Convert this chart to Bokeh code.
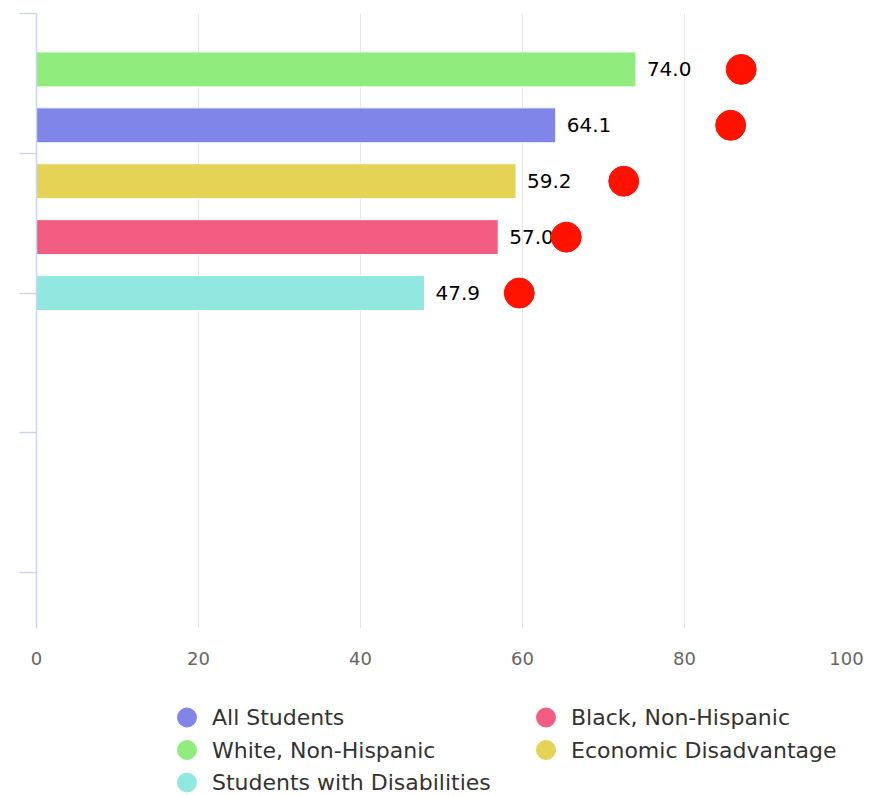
from bokeh.plotting import figure
from bokeh.layouts import column
from bokeh.models import Range1d, FixedTicker, ColumnDataSource, CustomJSTickFormatter
from bokeh.core.properties import value
from bokeh.embed import file_html
from bokeh.resources import INLINE

# ---- data ----
bar_groups = ["White, Non-Hispanic", "All Students", "Economic Disadvantage",
              "Black, Non-Hispanic", "Students with Disabilities"]
bar_values = [74.0, 64.1, 59.2, 57.0, 47.9]
target_values = [87.0, 85.7, 72.5, 65.4, 59.6]
bar_colors = ["#90ed7d", "#8085e9", "#e4d354", "#f15c80", "#91e8e1"]

legend_labels = ["All Students", "Black, Non-Hispanic", "White, Non-Hispanic",
                 "Economic Disadvantage", "Students with Disabilities"]
legend_colors = ["#8085e9", "#f15c80", "#90ed7d", "#e4d354", "#91e8e1"]

x_ticks = [0, 20, 40, 60, 80, 100]
y_axis_ticks = [-1, 1.5, 4, 6.5, 9]

FONT = "DejaVu Sans"

# ---- main chart ----
p = figure(width=880, height=680, output_backend="svg", toolbar_location=None,
           x_range=Range1d(0, 100), y_range=Range1d(10, -1),
           min_border_left=36, min_border_right=34, min_border_top=13,
           min_border_bottom=52)
p.outline_line_color = None
p.background_fill_color = "white"
p.border_fill_color = "white"

ypos = list(range(len(bar_groups)))
src = ColumnDataSource(dict(y=ypos, v=bar_values, t=target_values, c=bar_colors,
                            lab=["%.1f" % v for v in bar_values]))

p.hbar(y="y", right="v", left=0, height=0.625, fill_color="c",
       line_color="white", line_width=1, source=src)
p.text(x="v", y="y", text="lab", x_offset=11, text_align="left",
       text_baseline="middle", text_font=value(FONT), text_font_size="20px",
       text_color="#000000", source=src)
p.scatter(x="t", y="y", size=30, fill_color="#ff1200", line_color="#ff1200",
          source=src)

# x axis
p.xaxis.ticker = FixedTicker(ticks=x_ticks)
p.xaxis.axis_line_color = None
p.xaxis.major_tick_line_color = None
p.xaxis.minor_tick_line_color = None
p.xaxis.major_label_standoff = 17
p.xaxis.major_label_text_font = FONT
p.xaxis.major_label_text_font_size = "18px"
p.xaxis.major_label_text_color = "#666666"

# y axis (ticks only, no labels)
p.yaxis.ticker = FixedTicker(ticks=y_axis_ticks)
p.yaxis.axis_line_color = "#ccd6eb"
p.yaxis.axis_line_width = 1.5
p.yaxis.major_tick_line_color = "#ccd6eb"
p.yaxis.major_tick_line_width = 1.5
p.yaxis.major_tick_out = 17
p.yaxis.major_tick_in = 0
p.yaxis.minor_tick_line_color = None
p.yaxis.major_label_text_color = None
p.yaxis.major_label_standoff = 0
p.yaxis.formatter = CustomJSTickFormatter(code="return ''")

p.xgrid.ticker = FixedTicker(ticks=x_ticks)
p.xgrid.grid_line_color = "#e6e6e6"
p.xgrid.grid_line_width = 1
p.ygrid.grid_line_color = None

# ---- legend (separate strip, frame aligned with the chart) ----
leg = figure(width=880, height=116, output_backend="svg", toolbar_location=None,
             x_range=Range1d(36, 846), y_range=Range1d(116, 0),
             min_border_left=36, min_border_right=34, min_border_top=0,
             min_border_bottom=0)
leg.outline_line_color = None
leg.axis.visible = False
leg.grid.visible = False

col_x = [186.5, 545.5]
row_y0, row_dy = 37, 32.5
lx = [col_x[i % 2] for i in range(len(legend_labels))]
ly = [row_y0 + row_dy * (i // 2) for i in range(len(legend_labels))]
lsrc = ColumnDataSource(dict(x=lx, y=ly, c=legend_colors, lab=legend_labels))
leg.scatter(x="x", y="y", size=19, fill_color="c", line_color="c", source=lsrc)
leg.text(x="x", y="y", text="lab", x_offset=25, text_align="left",
         text_baseline="middle", text_font=value(FONT), text_font_size="22px",
         text_color="#333333", source=lsrc)

layout = column(p, leg, spacing=0)

open("out.html", "w").write(file_html(layout, INLINE))
